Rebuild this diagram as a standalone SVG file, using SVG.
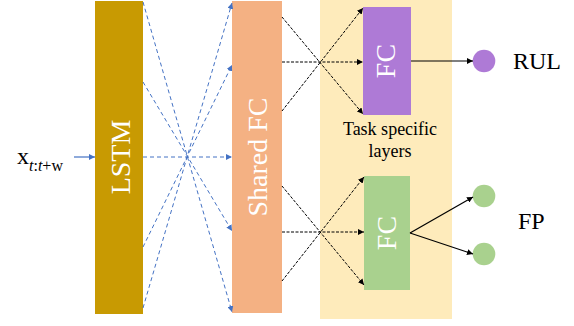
<svg xmlns="http://www.w3.org/2000/svg" width="574" height="326" viewBox="0 0 574 326">
  <style>
    .lbl { font-family: "Liberation Serif", "Times New Roman", serif; fill: #000; }
    .blk { font-family: "Liberation Serif", "Times New Roman", serif; fill: #fff; font-size: 28px; }
    .blue { stroke: #4472C4; stroke-width: 1; fill: none; stroke-dasharray: 4 3; }
    .bluesolid { stroke: #4472C4; stroke-width: 1.2; fill: none; }
    .dash { stroke: #000; stroke-width: 1; fill: none; stroke-dasharray: 3 1.5; }
    .solid { stroke: #000; stroke-width: 1.2; fill: none; }
  </style>
  <defs>
    <marker id="ab" viewBox="0 0 10 10" refX="10" refY="5" markerWidth="6" markerHeight="6" markerUnits="userSpaceOnUse" orient="auto">
      <path d="M0,0 L10,5 L0,10 z" fill="#4472C4"/>
    </marker>
    <marker id="ak" viewBox="0 0 10 10" refX="10" refY="5" markerWidth="6" markerHeight="6" markerUnits="userSpaceOnUse" orient="auto">
      <path d="M0,0 L10,5 L0,10 z" fill="#000"/>
    </marker>
  </defs>

  <!-- task-specific region background -->
  <rect x="320" y="0" width="132" height="319" fill="#FEEBBB"/>

  <g id="input">
    <text class="lbl" x="17" y="164" font-size="24">x<tspan font-size="16" dy="7"><tspan font-style="italic">t</tspan>:<tspan font-style="italic">t</tspan>+w</tspan></text>
  </g>

  <g id="lstm">
    <rect x="95" y="1" width="48" height="313" fill="#C89A02"/>
    <text class="blk" transform="translate(130,157) rotate(-90)" text-anchor="middle">LSTM</text>
  </g>

  <g id="shared-fc">
    <rect x="232" y="1" width="50" height="312" fill="#F4B183"/>
    <text class="blk" transform="translate(267,157) rotate(-90)" text-anchor="middle">Shared FC</text>
  </g>

  <g id="fc-rul">
    <rect x="363" y="7" width="48" height="108" fill="#AE7AD6"/>
    <text class="blk" transform="translate(395,61) rotate(-90)" text-anchor="middle">FC</text>
  </g>

  <g id="fc-fp">
    <rect x="364" y="176" width="46" height="114" fill="#A9D18E"/>
    <text class="blk" transform="translate(396,233) rotate(-90)" text-anchor="middle">FC</text>
  </g>

  <g id="task-label">
    <text class="lbl" x="390" y="135" font-size="18" text-anchor="middle">Task specific</text>
    <text class="lbl" x="390" y="157" font-size="18" text-anchor="middle">layers</text>
  </g>

  <g id="rul">
    <circle cx="484" cy="61" r="11.3" fill="#AE7AD6"/>
    <text class="lbl" x="513" y="69" font-size="24">RUL</text>
  </g>

  <g id="fp">
    <circle cx="484" cy="196" r="11.3" fill="#A9D18E"/>
    <circle cx="484" cy="254" r="11.3" fill="#A9D18E"/>
    <text class="lbl" x="518" y="229" font-size="24">FP</text>
  </g>

  <g id="connectors">
    <!-- input into LSTM -->
    <line class="bluesolid" x1="74" y1="157" x2="95" y2="157" marker-end="url(#ab)"/>
    <!-- LSTM to shared FC -->
    <line class="blue" x1="143" y1="2" x2="232" y2="312" marker-end="url(#ab)"/>
    <line class="blue" x1="143" y1="82" x2="232" y2="231" marker-end="url(#ab)"/>
    <line class="blue" x1="143" y1="157" x2="232" y2="157" marker-end="url(#ab)"/>
    <line class="blue" x1="143" y1="247" x2="232" y2="65" marker-end="url(#ab)"/>
    <line class="blue" x1="143" y1="308" x2="232" y2="3" marker-end="url(#ab)"/>
    <!-- shared FC to RUL branch -->
    <line class="dash" x1="282" y1="17" x2="363" y2="114" marker-end="url(#ak)"/>
    <line class="dash" x1="282" y1="62" x2="363" y2="62" marker-end="url(#ak)"/>
    <line class="dash" x1="282" y1="111" x2="363" y2="8" marker-end="url(#ak)"/>
    <!-- shared FC to FP branch -->
    <line class="dash" x1="282" y1="186" x2="364" y2="285" marker-end="url(#ak)"/>
    <line class="dash" x1="282" y1="232" x2="364" y2="232" marker-end="url(#ak)"/>
    <line class="dash" x1="282" y1="281" x2="364" y2="177" marker-end="url(#ak)"/>
    <!-- outputs -->
    <line class="solid" x1="411" y1="61" x2="473" y2="61" marker-end="url(#ak)"/>
    <line class="solid" x1="410" y1="233" x2="473" y2="197" marker-end="url(#ak)"/>
    <line class="solid" x1="410" y1="233" x2="473" y2="254" marker-end="url(#ak)"/>
  </g>
</svg>
